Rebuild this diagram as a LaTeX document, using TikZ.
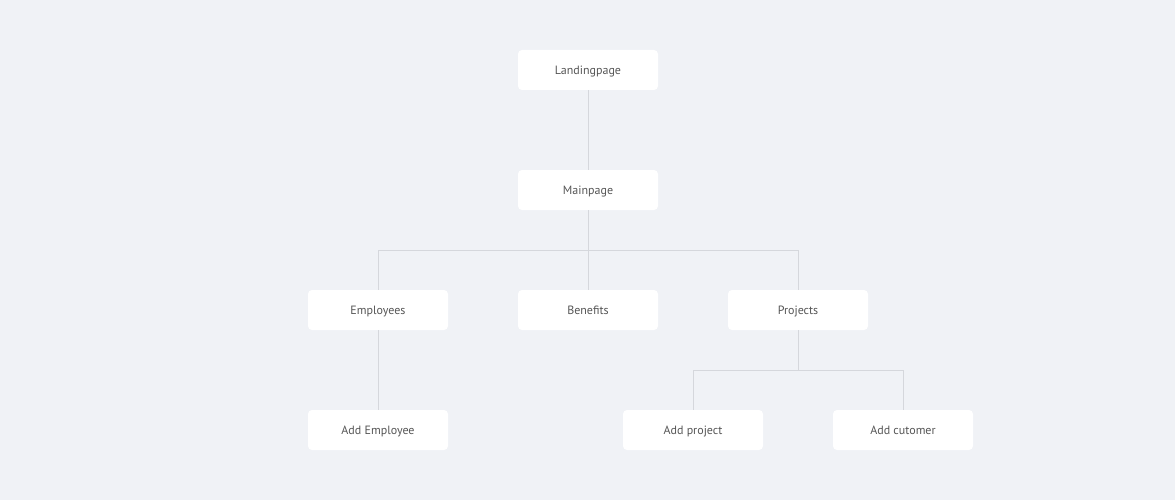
\documentclass[tikz,border=0pt]{standalone}
\usepackage{fontspec}
\setmainfont{PT Sans}
\definecolor{bg}{HTML}{F0F2F6}
\definecolor{ln}{HTML}{D5D7DC}
\definecolor{tx}{HTML}{555555}
\begin{document}
\begin{tikzpicture}[x=1pt,y=-1pt,
  box/.style={fill=white,rounded corners=4pt,minimum width=140pt,minimum height=40pt,inner sep=0pt,text=tx,font=\fontsize{12}{14}\selectfont,text height=10pt,text depth=1pt},
  conn/.style={draw=ln,line width=1pt}]
\fill[bg] (0,0) rectangle (1175,500);
\useasboundingbox (0,0) rectangle (1175,500);
\node[box] (l) at (588,70) {Landingpage};
\node[box] (m) at (588,190) {Mainpage};
\node[box] (e) at (378,310) {Employees};
\node[box] (b) at (588,310) {Benefits};
\node[box] (p) at (798,310) {Projects};
\node[box] (ae) at (378,430) {Add Employee};
\node[box] (ap) at (693,430) {Add project};
\node[box] (ac) at (903,430) {Add cutomer};
\draw[conn] (l.south) -- (m.north);
\draw[conn] (m.south) -- ++(0,40) coordinate (j1);
\draw[conn] (j1) -| (e.north);
\draw[conn] (j1) -| (p.north);
\draw[conn] (j1) -- (b.north);
\draw[conn] (e.south) -- (ae.north);
\draw[conn] (p.south) -- ++(0,40) coordinate (j2);
\draw[conn] (j2) -| (ap.north);
\draw[conn] (j2) -| (ac.north);
\end{tikzpicture}
\end{document}
